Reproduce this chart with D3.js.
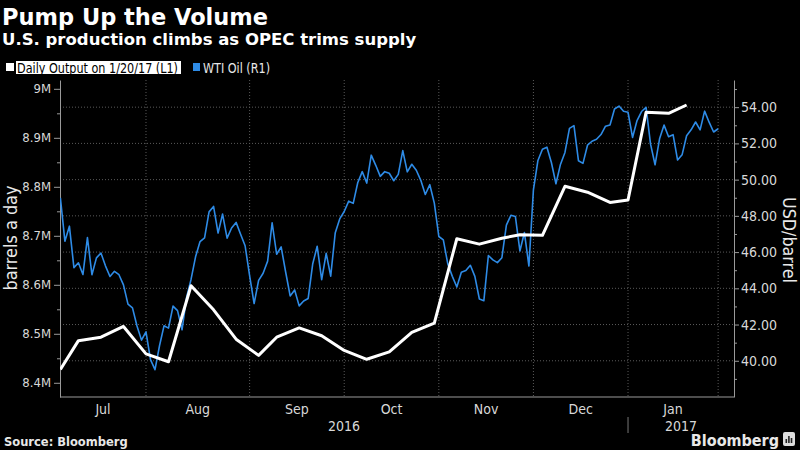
<!DOCTYPE html>
<html>
<head>
<meta charset="utf-8">
<script src="https://cdn.jsdelivr.net/npm/d3@7"></script>
<style>
  body { margin: 0; background: #000; }
  svg { display: block; }
</style>
</head>
<body>
<div id="chart"></div>
<script>
// WTI daily close, trading days 2016-07-01 .. 2017-01-31
const wtiValues = [
  48.99, 46.60, 47.43, 45.14, 45.41, 44.76, 46.80, 44.75, 45.68, 45.95,
  45.24, 44.65, 44.94, 44.75, 44.19, 43.13, 42.92, 41.92, 41.14, 41.60,
  40.06, 39.51, 40.83, 41.93, 41.80, 43.02, 42.77, 41.71, 43.49, 44.49,
  45.74, 46.58, 46.79, 48.22, 48.52, 47.05, 48.10, 46.77, 47.33, 47.64,
  46.98, 46.35, 44.70,
  43.16, 44.44, 44.83, 45.50, 47.62, 45.88, 46.29, 44.90, 43.58, 43.91,
  43.03, 43.30, 43.44, 45.34, 46.32, 44.48, 45.93, 44.67, 47.05, 47.83, 48.24,
  48.81, 48.69, 49.83, 50.44, 49.81, 51.35, 50.79, 50.18, 50.44, 50.35,
  49.94, 50.29, 51.60, 50.43, 50.85, 50.52, 49.96, 49.18, 49.72, 48.70, 46.86,
  46.67, 45.34, 44.66, 44.07, 44.89, 44.98, 45.27, 44.66, 43.41, 43.32,
  45.81, 45.57, 45.42, 45.69, 47.49, 48.03, 47.96, 46.06, 47.08, 45.23, 49.44,
  51.06, 51.68, 51.79, 50.93, 49.77, 50.84, 51.50, 52.83, 52.98, 51.04,
  50.90, 51.90, 52.12, 52.23, 52.49, 52.95, 53.02, 53.90, 54.06, 53.77, 53.72,
  52.33, 53.26, 53.76, 53.99, 51.96, 50.82, 52.25, 53.01, 52.37, 52.48,
  51.08, 51.37, 52.42, 52.75, 53.18, 52.75, 53.78, 53.17, 52.63, 52.81
];

// weekly output, million barrels a day
const outputDates = [
  "2016-07-01", "2016-07-08", "2016-07-15", "2016-07-22", "2016-07-29",
  "2016-08-05", "2016-08-12", "2016-08-19", "2016-08-26", "2016-09-02",
  "2016-09-09", "2016-09-16", "2016-09-23", "2016-09-30", "2016-10-07",
  "2016-10-14", "2016-10-21", "2016-10-28", "2016-11-04", "2016-11-11",
  "2016-11-18", "2016-11-25", "2016-12-02", "2016-12-09", "2016-12-16",
  "2016-12-23", "2016-12-30", "2017-01-06", "2017-01-13", "2017-01-20"
];
const outputValues = [
  8.427, 8.486, 8.493, 8.515, 8.459, 8.443, 8.598, 8.549, 8.489, 8.456,
  8.493, 8.512, 8.496, 8.466, 8.448, 8.463, 8.503, 8.522, 8.694, 8.683,
  8.695, 8.702, 8.701, 8.801, 8.789, 8.768, 8.773, 8.952, 8.950, 8.967
];

const holidays = ["2016-07-04", "2016-09-05", "2016-11-24", "2016-12-26", "2017-01-02", "2017-01-16"];
const leftTicks = [8.4, 8.5, 8.6, 8.7, 8.8, 8.9, 9.0];
const rightTicks = [40, 42, 44, 46, 48, 50, 52, 54];
const monthNames = ["Jul", "Aug", "Sep", "Oct", "Nov", "Dec", "Jan"];
const yearNames = ["2016", "2017"];

const NARROW = '"Liberation Sans Narrow", "DejaVu Sans Condensed", sans-serif';
const BOLD = '"DejaVu Sans", sans-serif';
const BLUE = "#2e8be6";

const pLeft = 60, pRight = 734, pTop = 80, pBottom = 397;

const fmt = d3.timeFormat("%Y-%m-%d");
const tradeDays = d3.timeDay.range(new Date(2016, 6, 1), new Date(2017, 1, 7))
  .filter(d => d.getDay() != 0 && d.getDay() != 6 && holidays.indexOf(fmt(d)) < 0)
  .map(fmt);

const x = d3.scalePoint()
  .domain(tradeDays)
  .range([60.4, 60.4 + (tradeDays.length - 1) * 4.505]);

const yL = d3.scaleLinear().domain([8.371, 9.018]).range([pBottom, pTop]);
const yR = d3.scaleLinear().domain([38, 55.5]).range([pBottom, pTop]);

const svg = d3.select("#chart")
  .append("svg")
  .attr("width", 800)
  .attr("height", 450);

svg.append("rect").attr("width", 800).attr("height", 450).attr("fill", "#000");

// month boundaries = last trading day of each month
let boundaries = [];
for (let i = 0; i < tradeDays.length - 1; i++) {
  if (tradeDays[i].slice(5, 7) != tradeDays[i + 1].slice(5, 7)) boundaries.push(tradeDays[i]);
}
boundaries = boundaries.slice(0, 7);

// grid
svg.append("g")
  .selectAll("line")
  .data(rightTicks)
  .enter()
  .append("line")
  .attr("x1", pLeft).attr("x2", pRight)
  .attr("y1", d => yR(d)).attr("y2", d => yR(d))
  .attr("stroke", "#5a5a5a")
  .attr("stroke-dasharray", "1,2");

svg.append("g")
  .selectAll("line")
  .data(boundaries)
  .enter()
  .append("line")
  .attr("x1", d => x(d)).attr("x2", d => x(d))
  .attr("y1", pTop).attr("y2", pBottom)
  .attr("stroke", "#5a5a5a")
  .attr("stroke-dasharray", "1,2");

// axes
function styleAxis(size) {
  return function(g) {
    g.select(".domain").attr("stroke", "#9a9a9a");
    g.selectAll(".tick line").attr("stroke", "#9a9a9a");
    g.selectAll(".tick text").attr("fill", "#d8d8d8").style("font-family", NARROW).style("font-size", size);
  };
}

svg.append("g")
  .attr("transform", "translate(" + pLeft + ",0)")
  .call(d3.axisLeft(yL).tickValues(leftTicks).tickSize(6).tickSizeOuter(0).tickPadding(3)
    .tickFormat(d => d3.format(".1~f")(d) + "M"))
  .call(styleAxis("13px"));

svg.append("g")
  .attr("transform", "translate(" + pLeft + ",0)")
  .call(d3.axisLeft(yL).tickValues(leftTicks.map(d => d + 0.05).filter(d => d < 9)).tickSize(3).tickFormat(""))
  .call(g => g.select(".domain").remove())
  .selectAll("line").attr("stroke", "#9a9a9a");

svg.append("g")
  .attr("transform", "translate(" + pRight + ",0)")
  .call(d3.axisRight(yR).tickValues(rightTicks).tickSize(5).tickSizeOuter(0).tickPadding(2)
    .tickFormat(d3.format(".2f")))
  .call(styleAxis("14px"));

svg.append("g")
  .attr("transform", "translate(" + pRight + ",0)")
  .call(d3.axisRight(yR).tickValues(d3.range(39, 56, 2)).tickSize(3).tickFormat(""))
  .call(g => g.select(".domain").remove())
  .selectAll("line").attr("stroke", "#9a9a9a");

svg.append("line")
  .attr("x1", pLeft).attr("x2", pRight)
  .attr("y1", pBottom).attr("y2", pBottom)
  .attr("stroke", "#9a9a9a");

// month and year labels
const edges = [tradeDays[0]].concat(boundaries);
svg.append("g")
  .selectAll("text")
  .data(monthNames)
  .enter()
  .append("text")
  .attr("x", (d, i) => i == 0 ? (pLeft + x(edges[1])) / 2 : (x(edges[i]) + x(edges[i + 1])) / 2)
  .attr("y", 414)
  .attr("text-anchor", "middle")
  .attr("fill", "#d8d8d8")
  .style("font-family", NARROW)
  .style("font-size", "14px")
  .text(d => d);

const yearSplit = x(boundaries[5]);
svg.append("g")
  .selectAll("text")
  .data(yearNames)
  .enter()
  .append("text")
  .attr("x", (d, i) => i == 0 ? (pLeft + yearSplit) / 2 : (yearSplit + pRight) / 2)
  .attr("y", 431)
  .attr("text-anchor", "middle")
  .attr("fill", "#d8d8d8")
  .style("font-family", NARROW)
  .style("font-size", "14px")
  .text(d => d);

svg.append("line")
  .attr("x1", yearSplit).attr("x2", yearSplit)
  .attr("y1", 417).attr("y2", 433)
  .attr("stroke", "#777");

// axis titles
svg.append("text")
  .attr("transform", "translate(17,238) rotate(-90)")
  .attr("text-anchor", "middle")
  .attr("fill", "#e8e8e8")
  .attr("textLength", 105)
  .attr("lengthAdjust", "spacingAndGlyphs")
  .style("font-family", NARROW)
  .style("font-size", "17px")
  .text("barrels a day");

svg.append("text")
  .attr("transform", "translate(783,240) rotate(90)")
  .attr("text-anchor", "middle")
  .attr("fill", "#e8e8e8")
  .attr("textLength", 86)
  .attr("lengthAdjust", "spacingAndGlyphs")
  .style("font-family", NARROW)
  .style("font-size", "17px")
  .text("USD/barrel");

// lines
svg.append("clipPath").attr("id", "plot")
  .append("rect").attr("x", pLeft).attr("y", pTop).attr("width", pRight - pLeft).attr("height", pBottom - pTop);

svg.append("path")
  .datum(wtiValues)
  .attr("clip-path", "url(#plot)")
  .attr("fill", "none")
  .attr("stroke", BLUE)
  .attr("stroke-width", 1.6)
  .attr("stroke-linejoin", "round")
  .attr("d", d3.line().x((d, i) => x(tradeDays[i])).y(d => yR(d)));

svg.append("path")
  .datum(outputValues)
  .attr("clip-path", "url(#plot)")
  .attr("fill", "none")
  .attr("stroke", "#fff")
  .attr("stroke-width", 3)
  .attr("stroke-linejoin", "round")
  .attr("d", d3.line().x((d, i) => x(outputDates[i])).y(d => yL(d)));

// titles
svg.append("text")
  .attr("x", 2).attr("y", 25)
  .attr("fill", "#fff")
  .style("font-family", BOLD).style("font-weight", "bold").style("font-size", "22.5px")
  .text("Pump Up the Volume");

svg.append("text")
  .attr("x", 2).attr("y", 45)
  .attr("fill", "#fff")
  .style("font-family", BOLD).style("font-weight", "bold").style("font-size", "16.5px")
  .text("U.S. production climbs as OPEC trims supply");

// legend
svg.append("rect").attr("x", 6).attr("y", 63).attr("width", 8).attr("height", 8).attr("fill", "#fff");
svg.append("rect").attr("x", 16).attr("y", 61).attr("width", 165).attr("height", 13).attr("fill", "#fff");
svg.append("text")
  .attr("x", 17).attr("y", 72.5)
  .attr("fill", "#000")
  .attr("textLength", 161)
  .attr("lengthAdjust", "spacingAndGlyphs")
  .style("font-family", NARROW).style("font-size", "13.5px")
  .text("Daily Output on 1/20/17 (L1)");
svg.append("rect").attr("x", 193).attr("y", 63).attr("width", 7).attr("height", 8).attr("fill", BLUE);
svg.append("text")
  .attr("x", 203).attr("y", 72.5)
  .attr("fill", "#e8e8e8")
  .attr("textLength", 67)
  .attr("lengthAdjust", "spacingAndGlyphs")
  .style("font-family", NARROW).style("font-size", "13.5px")
  .text("WTI Oil (R1)");

// footer
svg.append("text")
  .attr("x", 4).attr("y", 446)
  .attr("fill", "#e8e8e8")
  .style("font-family", BOLD).style("font-weight", "bold").style("font-size", "11.5px")
  .text("Source: Bloomberg");

svg.append("text")
  .attr("x", 779).attr("y", 446)
  .attr("text-anchor", "end")
  .attr("fill", "#e8e8e8")
  .style("font-family", NARROW).style("font-weight", "bold").style("font-size", "16px")
  .text("Bloomberg");

svg.append("rect").attr("x", 783).attr("y", 432).attr("width", 12).attr("height", 14).attr("rx", 2).attr("fill", "#ddd");
svg.append("g")
  .selectAll("rect")
  .data([4, 7, 5])
  .enter()
  .append("rect")
  .attr("x", (d, i) => 785.5 + i * 2.6)
  .attr("y", d => 443 - d)
  .attr("width", 1.6)
  .attr("height", d => d)
  .attr("fill", "#222");
</script>
</body>
</html>
